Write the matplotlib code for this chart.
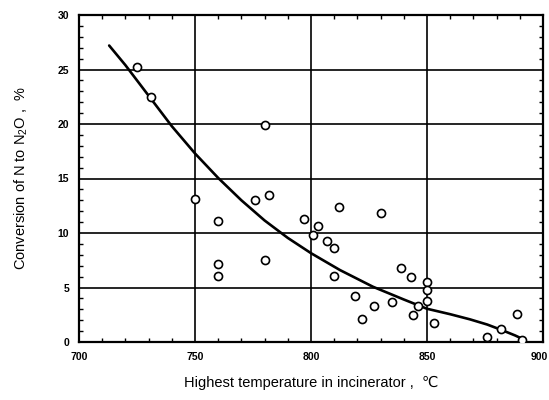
import matplotlib
matplotlib.use("Agg")
import matplotlib.pyplot as plt
from matplotlib.ticker import MultipleLocator

plt.rcParams['font.family'] = ['Liberation Sans', 'DejaVu Sans']
plt.rcParams['mathtext.fontset'] = 'custom'
plt.rcParams['mathtext.rm'] = 'Liberation Sans'

# Measured points: highest temperature (deg C) vs conversion (%)
temps = [725, 731, 750, 760, 760, 760, 776, 780, 780, 782,
         797, 801, 803, 807, 810, 810, 812, 819, 822, 827,
         830, 835, 839, 843, 846, 844, 850, 850, 850, 853,
         876, 882, 889, 891]
conv = [25.2, 22.5, 13.1, 11.1, 7.2, 6.1, 13.0, 19.9, 7.5, 13.5,
        11.3, 9.8, 10.6, 9.3, 8.6, 6.1, 12.4, 4.2, 2.1, 3.3,
        11.8, 3.7, 6.8, 6.0, 3.3, 2.5, 5.5, 4.8, 3.8, 1.7,
        0.45, 1.2, 2.6, 0.2]

# Fitted curve
curve_t = [713, 720, 730, 740, 750, 760, 770, 780, 790, 800,
           812.5, 826.7, 840, 850, 860, 868.5, 876, 882.2, 888, 892]
curve_c = [27.2, 25.4, 22.6, 19.8, 17.3, 15.05, 13.0, 11.15, 9.55, 8.15,
           6.6, 5.07, 3.9, 3.05, 2.55, 2.08, 1.6, 1.1, 0.6, 0.2]

xticks = [700, 750, 800, 850, 900]
xtick_labels = ['700', '750', '800', '850', '900']
yticks = [0, 5, 10, 15, 20, 25, 30]
ytick_labels = ['0', '5', '10', '15', '20', '25', '30']

fig = plt.figure(figsize=(5.49, 4.0), dpi=100)
ax = fig.add_axes([0.1439, 0.145, 0.8451, 0.8175])

ax.set_xlim(700, 900)
ax.set_ylim(0, 30)
ax.set_xticks(xticks, xtick_labels[:-1] + [''])
ax.set_yticks(yticks, ytick_labels)
ax.xaxis.set_minor_locator(MultipleLocator(10))
ax.yaxis.set_minor_locator(MultipleLocator(1))

ax.grid(True, which='major', color='black', linewidth=1.2)
ax.set_axisbelow(True)

ax.plot(curve_t, curve_c, color='black', linewidth=1.9, zorder=3,
        solid_joinstyle='round', solid_capstyle='round')
ax.plot(temps, conv, linestyle='none', marker='o', markersize=5.8,
        markerfacecolor='white', markeredgecolor='black',
        markeredgewidth=1.2, zorder=4)

for s in ax.spines.values():
    s.set_linewidth(1.6)
    s.set_color('black')

ax.tick_params(which='both', direction='in', top=True, right=True,
               labelsize=7.5, pad=7)
ax.tick_params(which='major', length=0)
ax.tick_params(which='minor', length=3, width=1)
for lab in ax.get_xticklabels() + ax.get_yticklabels():
    lab.set_fontweight('bold')

# last x tick label, kept just inside the figure edge
ax.annotate(xtick_labels[-1], xy=(xticks[-1], 0),
            xycoords=('data', 'axes fraction'),
            xytext=(-3, -7), textcoords='offset points',
            ha='center', va='top', fontsize=7.5, fontweight='bold')

ax.set_xlabel('Highest temperature in incinerator ,  \u2103', fontsize=10.5,
              labelpad=10)
ax.set_ylabel(r'Conversion of N to N$\mathregular{_2}$O ,  %', fontsize=10.5,
              labelpad=20)

fig.savefig('out.png', dpi=100)
